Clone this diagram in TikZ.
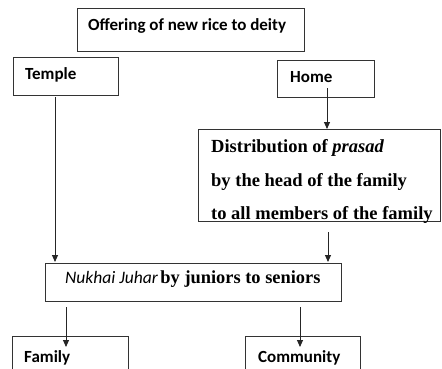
\documentclass[tikz,border=0pt]{standalone}
\usepackage{fontspec}
\setmainfont{Liberation Serif}
\newfontfamily\carlfont{Carlito}
\usetikzlibrary{arrows.meta}
\begin{document}
\begin{tikzpicture}[x=1pt,y=1pt,
  box/.style={draw=black!80, line width=0.9pt, anchor=north west, inner sep=0pt},
  conn/.style={draw=black!85, line width=0.9pt},
  arr/.style={conn, -{Triangle[length=7pt,width=6pt]}},
  lab/.style={anchor=base west, inner sep=0pt, text=black},
  calb/.style={lab, font=\carlfont\bfseries\fontsize{17}{20}\selectfont},
  tnr/.style={lab, font=\bfseries\fontsize{18.5}{22}\selectfont}]
\clip (0,0) rectangle (442,-368);
\fill[white] (0,0) rectangle (442,-368);
% boxes
\node[box, minimum width=227pt, minimum height=43pt] (offer) at (77,-8) {};
\node[box, minimum width=105pt, minimum height=38pt] (temple) at (13,-57) {};
\node[box, minimum width=97pt, minimum height=37pt] (home) at (277,-60) {};
\node[box, minimum width=242pt, minimum height=92pt] (dist) at (198,-129) {};
\node[box, minimum width=296pt, minimum height=38pt] (nukhai) at (45,-263) {};
\node[box, minimum width=116pt, minimum height=40pt] (family) at (12,-336) {};
\node[box, minimum width=115pt, minimum height=40pt] (community) at (245,-336) {};
% texts
\node[calb] (toffer) at (88,-30.7) {Offering of new rice to deity};
\node[calb] (ttemple) at (25,-79.5) {Temple};
\node[calb] (thome) at (290,-82) {Home};
\node[tnr] (td1) at (211,-152) {Distribution of \textit{prasad}};
\node[tnr] (td2) at (211,-186) {by the head of the family};
\node[tnr] (td3) at (211,-219) {to all members of the family};
\node[lab] (tnuk) at (65,-283) {{\carlfont\itshape\fontsize{17.5}{20}\selectfont Nukhai Juhar} {\bfseries\fontsize{18.4}{22}\selectfont by juniors to seniors}};
\node[calb] (tfam) at (24,-362) {Family};
\node[calb] (tcom) at (258,-362) {Community};
% connectors
\coordinate (h1) at (327,-88);
\draw[arr] (h1) -- (h1 |- dist.north);
\coordinate (t1) at (55,-97);
\draw[arr] (t1) -- ([yshift=1pt]t1 |- nukhai.north);
\coordinate (d1) at (328,-232);
\draw[arr] (d1) -- ([yshift=1pt]d1 |- nukhai.north);
\coordinate (n1) at (66,-307);
\coordinate (f1) at (66,-347);
\draw[arr] (n1) -- (f1);
\coordinate (n2) at (300,-307);
\coordinate (c1) at (300,-347);
\draw[arr] (n2) -- (c1);
\end{tikzpicture}
\end{document}
